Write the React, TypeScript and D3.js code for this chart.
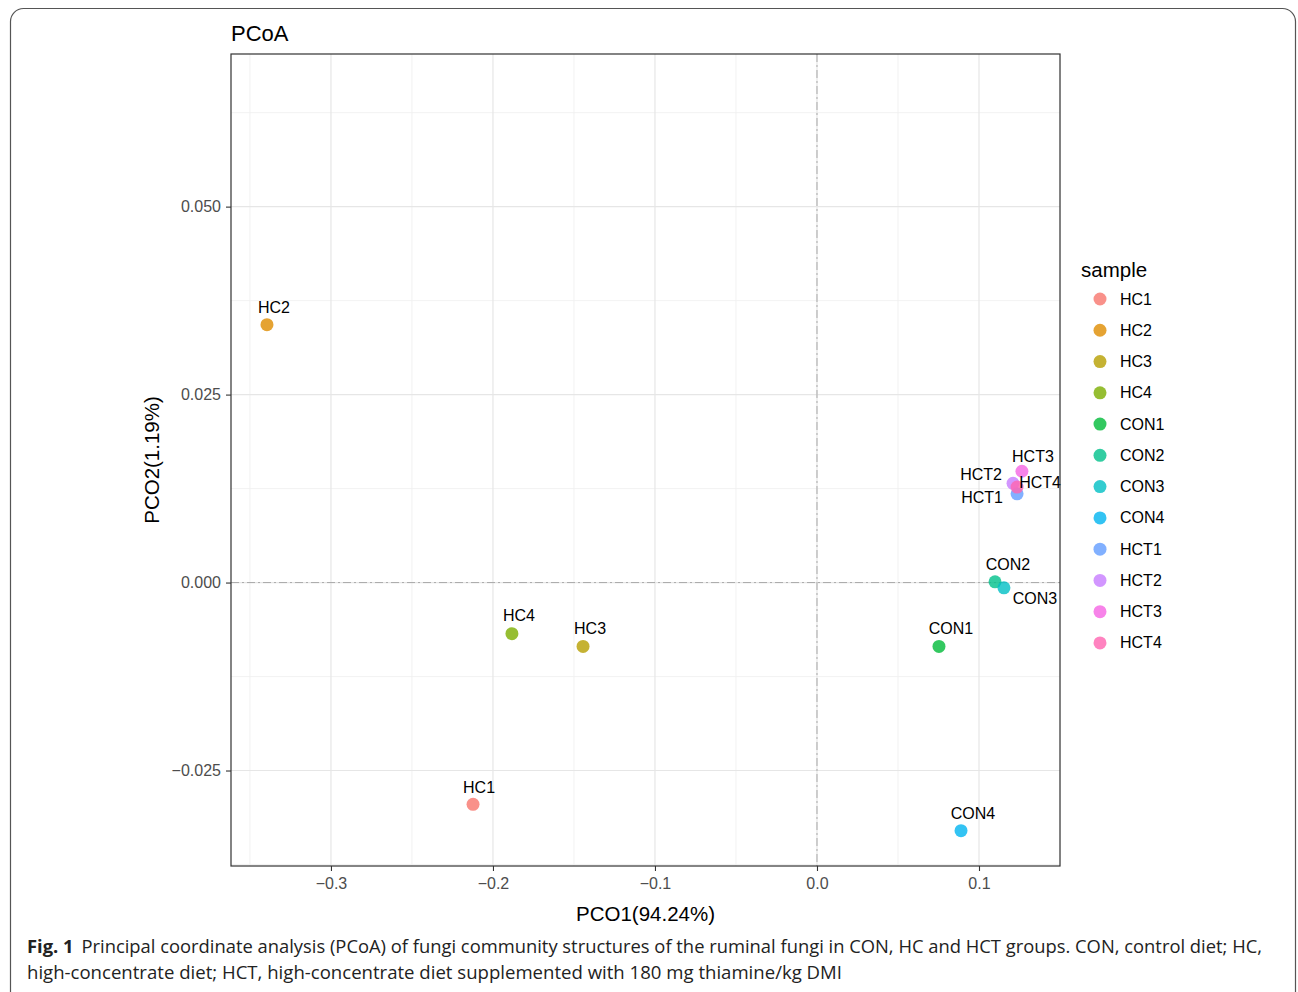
import * as d3 from 'd3'
import { useEffect, useRef } from 'react'

// sample names, coordinates
const samples = ['HC1', 'HC2', 'HC3', 'HC4', 'CON1', 'CON2', 'CON3', 'CON4', 'HCT1', 'HCT2', 'HCT3', 'HCT4']
const pco1 = [-0.2123, -0.3395, -0.1444, -0.1883, 0.0753, 0.1099, 0.1154, 0.0889, 0.1235, 0.121, 0.1265, 0.1235]
const pco2 = [-0.0295, 0.0343, -0.0085, -0.0068, -0.0085, 0.0001, -0.0007, -0.033, 0.0118, 0.0132, 0.0148, 0.0127]
const colors = ['#F8766D', '#DE8C00', '#B79F00', '#7CAE00', '#00BA38', '#00C08B', '#00BFC4', '#00B4F0', '#619CFF', '#C77CFF', '#F564E3', '#FF64B0']
const xTicks = [-0.3, -0.2, -0.1, 0.0, 0.1]
const yTicks = [-0.025, 0.0, 0.025, 0.05]
const xMinor = [-0.35, -0.25, -0.15, -0.05, 0.05, 0.15]
const yMinor = [-0.0375, -0.0125, 0.0125, 0.0375, 0.0625]

// repelled label offsets (px) from each point
const labelDx = [6, 7, 7, 7, 12, 13, 31, 12, -35, -32, 11, 23]
const labelDy = [-17, -17, -18, -18, -18, -17, 11, -17, 4, -9, -15, -5]

const width = 1298
const height = 992
const left = 231
const right = 1060
const top = 54
const bottom = 866

export default function App() {
  const gx = useRef<SVGGElement>(null)
  const gy = useRef<SVGGElement>(null)

  const x = d3.scaleLinear([-0.3617, 0.15], [left, right])
  const y = d3.scaleLinear([-0.0377, 0.0703], [bottom, top])

  useEffect(() => {
    const ax = d3.select(gx.current)
    ax.call(d3.axisBottom(x).tickValues(xTicks).tickFormat(d3.format('.1f')).tickSize(5).tickPadding(7))
    const ay = d3.select(gy.current)
    ay.call(d3.axisLeft(y).tickValues(yTicks).tickFormat(d3.format('.3f')).tickSize(5).tickPadding(5))
    for (const a of [ax, ay]) {
      a.select('.domain').remove()
      a.selectAll('line').attr('stroke', '#333').attr('stroke-width', 1.1)
      a.selectAll('text').attr('fill', '#4d4d4d').style('font-size', '16px').style('font-family', 'Liberation Sans, Arial, sans-serif')
    }
  }, [])

  const font = 'Liberation Sans, Arial, sans-serif'

  return (
    <svg width={width} height={height} style={{ position: 'absolute', left: 0, top: 0 }}>
      <rect x={10.5} y={8.5} width={1285} height={1010} rx={13} fill="white" stroke="#555" strokeWidth={1.2} />
      <text x={231} y={41} fontFamily={font} fontSize={22}>PCoA</text>

      <g>
        {xMinor.map((v) => (
          <line key={'xm' + v} x1={x(v)} x2={x(v)} y1={top} y2={bottom} stroke="#efefef" strokeWidth={0.8} />
        ))}
        {yMinor.map((v) => (
          <line key={'ym' + v} x1={left} x2={right} y1={y(v)} y2={y(v)} stroke="#efefef" strokeWidth={0.8} />
        ))}
        {xTicks.map((v) => (
          <line key={'x' + v} x1={x(v)} x2={x(v)} y1={top} y2={bottom} stroke="#e6e6e6" strokeWidth={1.2} />
        ))}
        {yTicks.map((v) => (
          <line key={'y' + v} x1={left} x2={right} y1={y(v)} y2={y(v)} stroke="#e6e6e6" strokeWidth={1.2} />
        ))}
        <line x1={x(0)} x2={x(0)} y1={top} y2={bottom} stroke="#aaa" strokeWidth={1} strokeDasharray="8 3 2 3" />
        <line x1={left} x2={right} y1={y(0)} y2={y(0)} stroke="#aaa" strokeWidth={1} strokeDasharray="8 3 2 3" />
      </g>

      <g>
        {samples.map((s, i) => (
          <circle key={s} cx={x(pco1[i])} cy={y(pco2[i])} r={6.5} fill={colors[i]} fillOpacity={0.8} />
        ))}
        {samples.map((s, i) => (
          <text
            key={'l' + s}
            x={x(pco1[i]) + labelDx[i]}
            y={y(pco2[i]) + labelDy[i]}
            textAnchor="middle"
            dominantBaseline="central"
            fontFamily={font}
            fontSize={16}
          >
            {s}
          </text>
        ))}
      </g>

      <rect x={left} y={top} width={right - left} height={bottom - top} fill="none" stroke="#333" strokeWidth={1.2} />
      <g ref={gx} transform={`translate(0,${bottom})`} />
      <g ref={gy} transform={`translate(${left},0)`} />

      <text x={(left + right) / 2} y={921} textAnchor="middle" fontFamily={font} fontSize={20.5}>PCO1(94.24%)</text>
      <text transform={`translate(159,${(top + bottom) / 2}) rotate(-90)`} textAnchor="middle" fontFamily={font} fontSize={20.5}>PCO2(1.19%)</text>

      <g fontFamily={font}>
        <text x={1081} y={277} fontSize={20.5}>sample</text>
        {samples.map((s, i) => (
          <g key={'lg' + s} transform={`translate(1100,${299 + i * 31.27})`}>
            <circle r={6.5} fill={colors[i]} fillOpacity={0.8} />
            <text x={20} dominantBaseline="central" fontSize={16}>{s}</text>
          </g>
        ))}
      </g>

      <g fontFamily="Open Sans, Noto Sans, sans-serif" fontSize={18.5} fill="#222">
        <text x={27} y={953} textLength={1235} lengthAdjust="spacingAndGlyphs">
          <tspan fontWeight="bold">Fig. 1</tspan>
          <tspan dx={8}>Principal coordinate analysis (PCoA) of fungi community structures of the ruminal fungi in CON, HC and HCT groups. CON, control diet; HC,</tspan>
        </text>
        <text x={27} y={979} textLength={815} lengthAdjust="spacingAndGlyphs">high-concentrate diet; HCT, high-concentrate diet supplemented with 180 mg thiamine/kg DMI</text>
      </g>
    </svg>
  )
}
